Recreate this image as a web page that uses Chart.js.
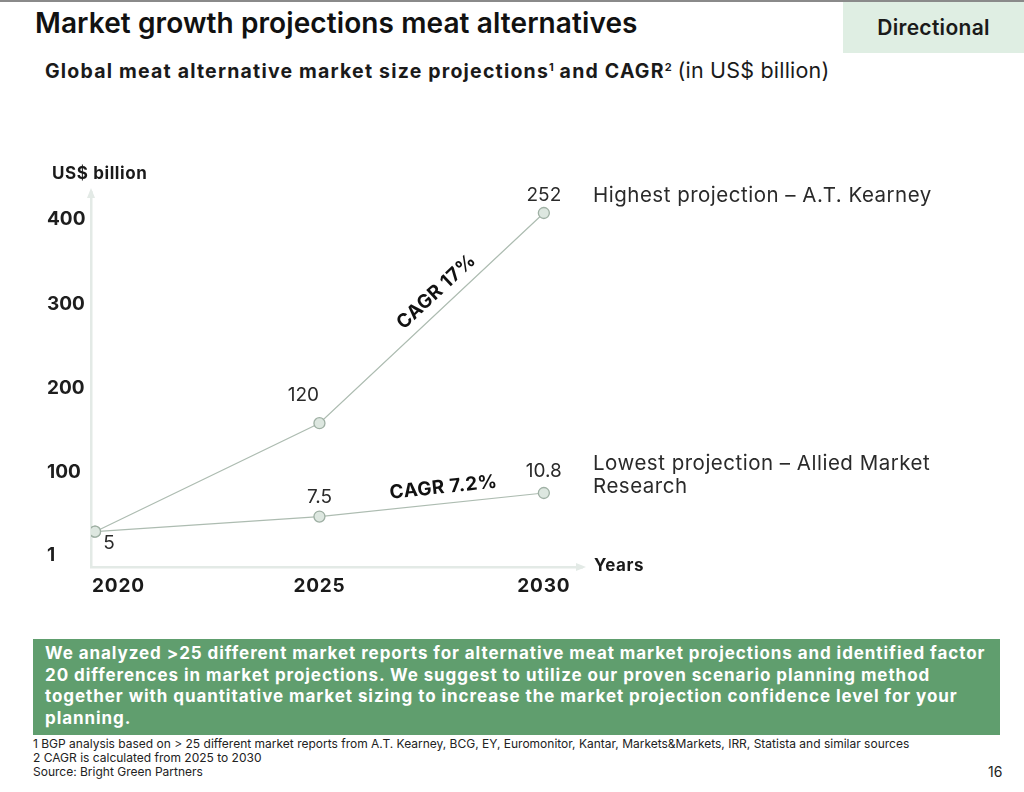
<!DOCTYPE html>
<html>
<head>
<meta charset="utf-8">
<script src="https://cdn.jsdelivr.net/npm/chart.js@4"></script>
<style>
  html,body{margin:0;padding:0;background:#fff;}
  body{width:1024px;height:792px;position:relative;overflow:hidden;font-family:Inter,"Noto Sans",sans-serif;color:#1a1a1a;}
  .topline{position:absolute;left:0;top:0;width:1024px;height:2px;background:#8a8a8a;}
  .title{position:absolute;left:35px;top:6px;font-size:28px;font-weight:600;letter-spacing:0.1px;white-space:nowrap;color:#111;}
  .badge{position:absolute;left:843px;top:2px;width:181px;height:51px;background:#dfeee3;font-size:21px;font-weight:600;letter-spacing:0.3px;display:flex;align-items:center;justify-content:center;color:#1a1a1a;}
  .subtitle{position:absolute;left:45px;top:57px;font-size:19.5px;font-weight:700;white-space:nowrap;letter-spacing:1.2px;color:#1a1a1a;}
  .subtitle sup{font-size:11px;vertical-align:7px;letter-spacing:0;}
  .subtitle .reg{font-weight:400;font-size:21.5px;letter-spacing:0.2px;}
  #wrap{position:absolute;left:0;top:150px;width:1024px;height:450px;}
  .box{position:absolute;left:33px;top:639px;width:967px;height:96px;background:#609e6e;color:#fff;font-size:17px;font-weight:700;line-height:21.7px;padding:4px 0 0 12px;box-sizing:border-box;white-space:nowrap;letter-spacing:0.93px;}
  .foot{position:absolute;left:33px;top:737px;font-size:12px;line-height:14px;color:#222;white-space:nowrap;}
  .page{position:absolute;left:988px;top:763px;font-size:14px;color:#222;}
</style>
</head>
<body>
<div class="topline"></div>
<div class="title">Market growth projections meat alternatives</div>
<div class="badge">Directional</div>
<div class="subtitle">Global meat alternative market size projections<sup>1</sup> and CAGR<sup>2</sup> <span class="reg">(in US$ billion)</span></div>
<div id="wrap"><canvas id="c" width="1024" height="450"></canvas></div>
<div class="box">We analyzed &gt;25 different market reports for alternative meat market projections and identified factor<br>20 differences in market projections. We suggest to utilize our proven scenario planning method<br>together with quantitative market sizing to increase the market projection confidence level for your<br>planning.</div>
<div class="foot">1 BGP analysis based on &gt; 25 different market reports from A.T. Kearney, BCG, EY, Euromonitor, Kantar, Markets&amp;Markets, IRR, Statista and similar sources<br>2 CAGR is calculated from 2025 to 2030<br>Source: Bright Green Partners</div>
<div class="page">16</div>
<script>
// ---- data ----
const years = [2020, 2025, 2030];
// plotted positions as read against the (illustrative) y axis
const highestSeries = [29, 158, 408];
const lowestSeries = [29, 47, 75];
// value labels shown next to the points
const highestLabels = ['', '120', '252'];
const lowestLabels = ['5', '7.5', '10.8'];
const yTickValues = [1, 100, 200, 300, 400];
const xTickLabels = ['2020', '2025', '2030'];
const highestName = ['Highest projection \u2013 A.T. Kearney'];
const lowestName = ['Lowest projection \u2013 Allied Market', 'Research'];
const cagrHigh = 'CAGR 17%';
const cagrLow = 'CAGR 7.2%';

const FONT = 'Inter, "Noto Sans", sans-serif';
const LINE = '#adbcb1';
const PT_FILL = '#dde7e0';
const PT_BORDER = '#9fb0a4';
const AXIS = '#e3eae6';

const annot = {
  id: 'annot',
  afterDraw(chart) {
    const ctx = chart.ctx;
    const xs = chart.scales.x, ys = chart.scales.y;
    const area = chart.chartArea;
    const hi = chart.getDatasetMeta(0).data;
    const lo = chart.getDatasetMeta(1).data;
    ctx.save();
    // arrowheads
    ctx.fillStyle = AXIS;
    ctx.beginPath();
    ctx.moveTo(xs.left, area.top - 4);
    ctx.lineTo(xs.left - 4, area.top + 6);
    ctx.lineTo(xs.left + 4, area.top + 6);
    ctx.closePath(); ctx.fill();
    ctx.beginPath();
    ctx.moveTo(area.right + 4, ys.bottom);
    ctx.lineTo(area.right - 6, ys.bottom - 4);
    ctx.lineTo(area.right - 6, ys.bottom + 4);
    ctx.closePath(); ctx.fill();

    // axis titles
    ctx.fillStyle = '#1a1a1a';
    ctx.textBaseline = 'middle';
    ctx.font = '700 17px ' + FONT;
    ctx.letterSpacing = '0.6px';
    ctx.textAlign = 'left';
    ctx.fillText('US$ billion', 52, area.top - 18);
    ctx.fillText('Years', area.right + 12, ys.bottom - 1);

    // x tick labels
    ctx.font = '700 19px ' + FONT;
    ctx.letterSpacing = '0.8px';
    xTickLabels.forEach((t, i) => {
      const px = xs.getPixelForValue(years[i]);
      if (i === 0) { ctx.textAlign = 'left'; ctx.fillText(t, area.left + 1, ys.bottom + 19); }
      else { ctx.textAlign = 'center'; ctx.fillText(t, px, ys.bottom + 19); }
    });

    // value labels
    ctx.font = '400 19px ' + FONT;
    ctx.letterSpacing = '0px';
    ctx.fillStyle = '#2a2a2a';
    ctx.textAlign = 'center';
    const hiOff = [[0, 0], [-16, -28], [0, -18]];
    const loOff = [[14, 12], [0, -19], [0, -22]];
    highestLabels.forEach((t, i) => { if (t) ctx.fillText(t, hi[i].x + hiOff[i][0], hi[i].y + hiOff[i][1]); });
    lowestLabels.forEach((t, i) => { if (t) ctx.fillText(t, lo[i].x + loOff[i][0], lo[i].y + loOff[i][1]); });

    // series names
    ctx.textAlign = 'left';
    ctx.font = '400 20.5px ' + FONT;
    ctx.letterSpacing = '0.5px';
    highestName.forEach((t, k) => ctx.fillText(t, 593, hi[2].y - 17 + k * 23));
    lowestName.forEach((t, k) => ctx.fillText(t, 593, lo[2].y - 29 + k * 23));

    // CAGR labels along lines
    ctx.font = '700 19px ' + FONT;
    ctx.letterSpacing = '0.4px';
    ctx.fillStyle = '#111';
    ctx.textAlign = 'center';
    const drawAlong = (a, b, txt, t, off) => {
      const ang = Math.atan2(b.y - a.y, b.x - a.x);
      const mx = a.x + (b.x - a.x) * t, my = a.y + (b.y - a.y) * t;
      const nx = Math.sin(ang), ny = -Math.cos(ang);
      ctx.save();
      ctx.translate(mx + nx * off, my + ny * off);
      ctx.rotate(ang);
      ctx.fillText(txt, 0, 0);
      ctx.restore();
    };
    drawAlong(hi[1], hi[2], cagrHigh, 0.57, 16);
    drawAlong(lo[1], lo[2], cagrLow, 0.56, 16);
    ctx.restore();
  }
};

new Chart(document.getElementById('c'), {
  type: 'line',
  data: {
    datasets: [
      { data: years.map((y, i) => ({ x: y, y: highestSeries[i] })) },
      { data: years.map((y, i) => ({ x: y, y: lowestSeries[i] })) }
    ].map(d => Object.assign(d, {
      borderColor: LINE, borderWidth: 1.2, tension: 0,
      pointRadius: 5.5, pointBackgroundColor: PT_FILL, pointBorderColor: PT_BORDER, pointBorderWidth: 1.3,
      fill: false
    }))
  },
  options: {
    responsive: false,
    animation: false,
    events: [],
    layout: { padding: { left: 47, right: 442, top: 42, bottom: 33 } },
    plugins: { legend: { display: false }, tooltip: { enabled: false }, title: { display: false } },
    scales: {
      x: {
        type: 'linear', min: 2019.91, max: 2030.85,
        grid: { display: false, drawTicks: false },
        border: { display: true, color: AXIS, width: 2.5 },
        ticks: { display: false },
        afterFit: s => { s.height = 0; }
      },
      y: {
        type: 'linear', min: -13, max: 433,
        grid: { display: false, drawTicks: false },
        border: { display: true, color: AXIS, width: 2.5 },
        afterBuildTicks: s => { s.ticks = yTickValues.map(v => ({ value: v })); },
        afterFit: s => { s.width = 44; },
        ticks: {
          crossAlign: 'far', padding: 6, color: '#1e1e1e',
          font: { family: FONT, size: 19, weight: '700' },
          callback: v => String(v)
        }
      }
    }
  },
  plugins: [annot]
});
</script>
</body>
</html>
